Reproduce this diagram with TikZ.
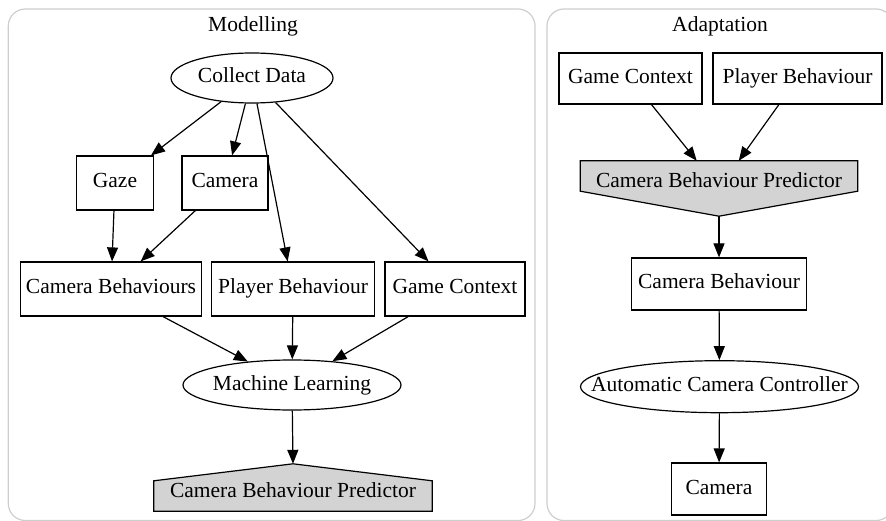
\documentclass[tikz,border=0pt]{standalone}
\usepackage{fontspec}
\setmainfont{Liberation Serif}
\usetikzlibrary{arrows.meta,backgrounds,shapes.geometric}
\definecolor{pgray}{RGB}{211,211,211}
\definecolor{cgray}{RGB}{206,206,206}
\tikzset{%
  gbox/.style={draw,shape=rectangle,line width=1.2pt,inner xsep=4pt,text height=14.5pt,text depth=4.5pt},
  gell/.style={draw,shape=ellipse,line width=1.2pt,inner sep=0pt,text height=14.5pt,text depth=4.5pt},
  gpred/.style={shape=rectangle,inner sep=0pt},
  pshape/.style={draw,fill=pgray,line width=1.2pt,line join=miter},
  gedge/.style={draw,line width=1.2pt,-{Triangle[length=14pt,width=11pt]}},
  gclust/.style={draw=cgray,line width=1.2pt,rounded corners=17pt}
}

\begin{document}
\begin{tikzpicture}[x=1pt,y=-1pt,font=\fontsize{21.5pt}{25pt}\selectfont]
      \useasboundingbox (0,0) rectangle (886,521);
      \draw[gclust] (8.3,9) rectangle (535,520.5);
      \draw[gclust] (547,9) rectangle (893,520.5);
      % modelling
      \path
        (253,32) node[anchor=base] (m_title) {Modelling}
        (252,78) node (m_collect)[gell,minimum width=162pt,minimum height=50pt]{\makebox[0pt]{Collect Data}}
        (115,183) node (m_gaze)[gbox,minimum width=77pt,minimum height=54pt]{Gaze}
        (225,183) node (m_camera)[gbox,minimum width=86pt,minimum height=54pt]{Camera}
        (111,289) node (m_cambs)[gbox,minimum width=181pt,minimum height=54pt]{Camera Behaviours}
        (293,289) node (m_player)[gbox,minimum width=163pt,minimum height=54pt]{Player Behaviour}
        (455,289) node (m_game)[gbox,minimum width=140pt,minimum height=54pt]{Game Context}
        (292,385) node (m_learn)[gell,minimum width=218pt,minimum height=50pt]{\makebox[0pt]{Machine Learning}}
        (293,487.5) node (m_pred)[gpred,text height=23.5pt,text depth=4.5pt,minimum width=278pt,minimum height=47pt]{Camera Behaviour Predictor};
      % adaptation
      \path
        (720,32) node[anchor=base] (a_title) {Adaptation}
        (630.5,78.5) node (a_game)[gbox,minimum width=143pt,minimum height=51pt]{Game Context}
        (797.5,78.5) node (a_player)[gbox,minimum width=169pt,minimum height=51pt]{Player Behaviour}
        (719,188.5) node (a_pred)[gpred,text height=14.5pt,text depth=16.5pt,minimum width=277pt,minimum height=55pt]{Camera Behaviour Predictor}
        (719,284) node (a_camb)[gbox,minimum width=175pt,minimum height=52pt]{Camera Behaviour}
        (719.5,386.7) node (a_auto)[gell,minimum width=278pt,minimum height=52pt]{\makebox[0pt]{Automatic Camera Controller}}
        (719,489) node (a_camera)[gbox,minimum width=95pt,minimum height=52pt]{Camera};
      \begin{scope}[on background layer]
        \path[pshape] (m_pred.south west) -- (m_pred.south east) -- ([yshift=-17pt]m_pred.north east)
          -- (m_pred.north) -- ([yshift=-17pt]m_pred.north west) -- cycle;
        \path[pshape] (a_pred.north west) -- (a_pred.north east) -- ([yshift=25pt]a_pred.south east)
          -- (a_pred.south) -- ([yshift=25pt]a_pred.south west) -- cycle;
      \end{scope}
      \draw[gedge] (m_collect) -- (m_gaze);
      \draw[gedge] (m_collect) -- (m_camera);
      \draw[gedge] (m_collect) -- (m_player);
      \draw[gedge] (m_collect) -- (m_game);
      \draw[gedge] (m_gaze) -- (m_cambs);
      \draw[gedge] (m_camera) -- (m_cambs);
      \draw[gedge] (m_cambs) -- (m_learn);
      \draw[gedge] (m_player) -- (m_learn);
      \draw[gedge] (m_game) -- (m_learn);
      \draw[gedge] (m_learn) -- (m_pred.north);
      \draw[gedge] (a_game) -- (a_pred);
      \draw[gedge] (a_player) -- (a_pred);
      \draw[gedge] (a_pred.south) -- (a_camb);
      \draw[gedge] (a_camb) -- (a_auto);
      \draw[gedge] (a_auto) -- (a_camera);
    \end{tikzpicture}
\end{document}
